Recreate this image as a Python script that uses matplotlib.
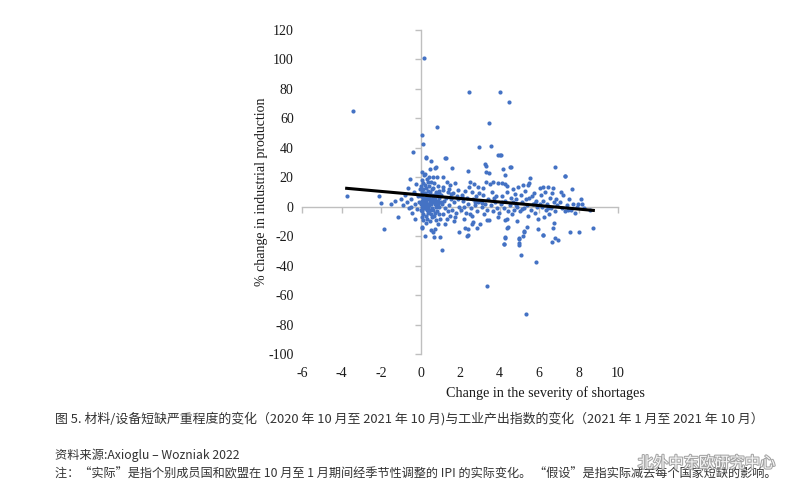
import matplotlib
matplotlib.use("Agg")
import matplotlib.pyplot as plt
import matplotlib.patheffects as pe
import numpy as np

plt.rcParams["axes.unicode_minus"] = False

# scatter points, grouped by band of shortage change (x, % change in IP)
pts_left = [(-3.74, 7.5), (-3.4, 65.2), (-2.08, 7.5), (-2.0, 2.3), (-1.85, -15.1), (-1.5, 2.0),
            (-1.3, 4.0), (-1.12, -7.2), (-1.0, 5.0), (-0.9, 1.0), (-0.8, 8.0), (-0.7, 3.0),
            (-0.65, 13.0), (-0.6, -1.0), (-0.53, 18.6), (-0.5, 5.0), (-0.42, -4.5), (-0.4, 37.0),
            (-0.35, 10.0), (-0.3, 2.0), (-0.25, 15.2), (-0.2, -1.6), (-0.15, 7.0), (-0.1, 3.0),
            (-0.05, 12.0), (-0.3, -8.0), (-0.5, 0.0)]

pts_0_1 = [(0.18, 100.8), (0.08, 48.5), (0.13, 42.6), (0.28, 33.5), (0.08, 23.8), (0.18, 21.5),
           (0.05, 18.0), (0.12, 16.0), (0.02, 14.0), (0.15, 12.0), (0.07, 10.0), (0.18, 9.0),
           (0.03, 7.0), (0.11, 6.0), (0.16, 5.0), (0.05, 4.0), (0.12, 3.0), (0.02, 2.0),
           (0.14, 1.0), (0.08, 0.0), (0.19, -1.0), (0.04, -2.0), (0.1, -3.0), (0.15, -5.0),
           (0.06, -7.0), (0.12, -9.0), (0.06, -13.6), (0.1, -14.5),
           (0.53, 31.2), (0.28, 32.9), (0.25, 22.0), (0.32, 19.0), (0.36, 17.0), (0.22, 15.0),
           (0.3, 13.0), (0.38, 11.0), (0.24, 9.0), (0.33, 8.0), (0.27, 6.0), (0.37, 5.0),
           (0.21, 4.0), (0.3, 3.0), (0.35, 2.0), (0.26, 1.0), (0.39, 0.0), (0.23, -1.0),
           (0.31, -2.0), (0.36, -4.0), (0.28, -6.0), (0.34, -8.0), (0.3, -11.0), (0.24, -20.1),
           (0.48, 25.4), (0.45, 20.4), (0.52, 17.0), (0.44, 14.0), (0.57, 12.0), (0.47, 10.0),
           (0.55, 8.0), (0.42, 7.0), (0.5, 5.0), (0.58, 4.0), (0.46, 3.0), (0.53, 2.0),
           (0.41, 1.0), (0.56, -1.0), (0.49, -2.0), (0.44, -3.0), (0.52, -5.0), (0.59, -7.0),
           (0.47, -10.0), (0.55, -16.0),
           (0.78, 27.2), (0.73, 26.5), (0.65, 20.4), (0.7, 16.0), (0.62, 13.0), (0.76, 10.0),
           (0.68, 8.0), (0.64, 6.0), (0.74, 5.0), (0.66, 3.0), (0.71, 2.0), (0.79, 0.0),
           (0.63, -2.0), (0.72, -4.0), (0.67, -6.0), (0.77, -9.0), (0.73, -15.4), (0.65, -17.0),
           (0.68, -20.8), (0.99, -20.4),
           (0.84, 54.1), (0.85, 20.4), (0.88, 14.0), (0.93, 11.0), (0.82, 8.0), (0.96, 6.0),
           (0.9, 4.0), (0.86, 2.0), (0.95, 0.0), (0.83, -3.0), (0.92, -5.0), (0.97, -8.0),
           (0.89, -12.0), (0.81, 3.0), (0.94, 9.0)]

pts_1_3 = [(1.27, 33.3), (1.24, 32.9), (1.58, 26.5), (1.14, 20.2), (1.33, 17.0), (1.75, 16.3),
           (1.49, 14.7), (1.16, 13.6), (1.12, 11.3), (1.91, 11.3), (1.4, 10.0), (1.62, 9.0),
           (1.05, 8.0), (1.83, 7.0), (1.3, 6.0), (1.55, 5.0), (1.2, 4.0), (1.7, 3.0),
           (1.08, 2.0), (1.45, 1.0), (1.95, 0.0), (1.25, -1.0), (1.6, -2.0), (1.38, -3.0),
           (1.8, -4.0), (1.15, -5.0), (1.5, -6.0), (1.35, -8.0), (1.68, -10.0), (1.22, -12.0),
           (1.97, -17.4), (1.1, -29.2), (1.88, 5.0), (1.02, 3.0), (1.73, -7.0), (1.43, 12.0),
           (1.52, 8.5),
           (2.46, 77.7), (2.98, 40.3), (2.42, 24.5), (2.51, 17.0), (2.71, 15.4), (2.93, 13.6),
           (2.47, 13.6), (2.25, 10.9), (2.59, 10.2), (2.98, 9.1), (2.1, 8.0), (2.8, 7.0),
           (2.35, 6.0), (2.65, 5.0), (2.15, 4.0), (2.9, 3.0), (2.4, 2.0), (2.75, 1.0),
           (2.2, 0.0), (2.55, -1.0), (2.05, -2.0), (2.85, -3.0), (2.3, -4.0), (2.62, -6.0),
           (2.18, -8.0), (2.68, -10.6), (2.59, -12.0), (2.85, -14.3), (2.25, -14.7),
           (2.39, -15.4), (2.42, -19.2), (2.37, -19.7), (2.12, 6.5), (2.78, 3.5), (2.5, -5.0)]

pts_3_5 = [(3.45, 57.0), (3.58, 41.4), (4.0, 35.3), (3.94, 35.0), (3.28, 29.0), (3.3, 27.8),
           (3.33, 23.4), (3.47, 23.1), (3.32, 17.0), (3.91, 15.9), (3.52, 15.2), (3.18, 12.5),
           (3.69, 17.0), (3.6, 10.0), (3.15, 8.0), (3.8, 7.0), (3.4, 5.0), (3.05, 4.0),
           (3.75, 3.0), (3.25, 2.0), (3.55, 1.0), (3.1, 0.0), (3.85, -1.0), (3.38, -2.0),
           (3.65, -3.0), (3.2, -5.0), (3.9, -7.0), (3.35, -9.0), (3.48, -9.0), (3.01, -12.0),
           (3.35, -53.6), (3.7, 6.0), (3.12, 2.5), (3.95, -4.0),
           (4.04, 78.1), (4.5, 71.3), (4.08, 35.1), (4.55, 27.0), (4.58, 26.8), (4.19, 25.6),
           (4.28, 21.5), (4.11, 15.9), (4.28, 15.4), (4.4, 14.0), (4.95, 13.6), (4.67, 11.8),
           (4.39, 9.8), (4.78, 8.6), (4.15, 7.0), (4.6, 6.0), (4.85, 5.0), (4.3, 4.0),
           (4.7, 3.0), (4.05, 2.0), (4.52, 1.0), (4.9, 0.0), (4.25, -1.0), (4.75, -2.0),
           (4.45, -3.0), (4.62, -5.0), (4.37, -8.6), (4.28, -9.0), (4.87, -9.7), (4.43, -13.6),
           (4.39, -14.3), (4.3, -20.8), (4.28, -21.0), (4.97, -22.2), (4.24, -25.3),
           (4.23, -25.5), (5.0, -26.0), (4.12, 3.0), (4.82, 1.5)]

pts_5_9 = [(5.54, 19.3), (5.51, 16.3), (5.2, 14.7), (5.46, 14.7), (6.05, 12.5), (5.3, 11.0),
           (5.75, 9.0), (5.1, 8.0), (5.65, 7.0), (5.35, 5.0), (5.85, 4.0), (5.15, 3.0),
           (5.7, 2.0), (5.4, 1.0), (5.9, 0.0), (5.25, -1.0), (5.6, -2.0), (5.05, -3.0),
           (5.8, -4.0), (5.45, -6.0), (5.95, -8.0), (5.38, -13.6), (5.97, -15.4), (5.24, -16.5),
           (5.26, -17.2), (5.17, -19.7), (5.09, -32.6), (5.85, -37.8), (5.34, -72.9),
           (5.5, 6.0), (5.78, 2.5), (5.12, -1.5), (5.0, -21.5), (5.0, -24.9),
           (6.81, 27.2), (6.22, 13.6), (6.47, 13.2), (6.69, 12.5), (6.3, 10.0), (6.64, 9.5),
           (6.1, 8.0), (6.55, 6.0), (6.85, 5.0), (6.2, 4.0), (6.75, 3.0), (6.4, 2.0),
           (6.9, 1.0), (6.15, 0.0), (6.6, -1.0), (6.35, -2.0), (6.8, -3.0), (6.5, -5.0),
           (6.25, -7.0), (6.76, -11.3), (6.72, -14.7), (6.22, -19.2), (6.19, -19.4),
           (6.81, -21.0), (6.98, -22.6), (6.66, -23.8), (6.05, 2.0), (6.45, -1.0),
           (7.32, 20.8), (7.32, 21.0), (7.11, 10.2), (7.2, 8.0), (7.5, 5.0), (7.05, 3.0),
           (7.7, 2.0), (7.4, 1.0), (7.9, 0.0), (7.15, -1.0), (7.6, -2.0), (7.3, -3.0),
           (7.8, -4.0), (7.57, -17.4), (8.04, -17.4), (8.2, 2.0), (8.3, -1.0), (8.6, -2.0),
           (8.75, -14.7), (8.1, 5.0), (7.95, 2.0), (7.65, 12.0), (7.45, -2.5)]

# fitted trend line shown in the figure
trend_intercept = 8.0
trend_slope = -1.2
trend_x = [-3.74, 8.75]

x_ticks = [-6, -4, -2, 0, 2, 4, 6, 8, 10]
y_ticks = [-100, -80, -60, -40, -20, 0, 20, 40, 60, 80, 100, 120]

caption = "图 5. 材料/设备短缺严重程度的变化（2020 年 10 月至 2021 年 10 月)与工业产出指数的变化（2021 年 1 月至 2021 年 10 月）"
source = "资料来源:Axioglu – Wozniak 2022"
note = "注：“实际”是指个别成员国和欧盟在 10 月至 1 月期间经季节性调整的 IPI 的实际变化。 “假设”是指实际减去每个国家短缺的影响。"
watermark = "北外中东欧研究中心"

serif = ["Liberation Serif", "DejaVu Serif"]
cjk = ["Noto Sans CJK SC", "DejaVu Sans"]

all_pts = np.array(pts_left + pts_0_1 + pts_1_3 + pts_3_5 + pts_5_9)

fig = plt.figure(figsize=(7.99, 4.98), dpi=100)
ax = fig.add_axes([0.378, 0.289, 0.3955, 0.651])

ax.scatter(all_pts[:, 0], all_pts[:, 1], s=9, color="#4472C4", linewidths=0, zorder=3)
tx = np.array(trend_x)
ax.plot(tx, trend_intercept + trend_slope * tx, color="black", lw=2.2, zorder=4)

ax.set_xlim(-6, 10)
ax.set_ylim(-100, 120)

# axis lines cross at the origin, labels stay on the outer edges
for side in ["top", "right"]:
    ax.spines[side].set_visible(False)
ax.spines["left"].set_position(("data", 0))
ax.spines["bottom"].set_position(("data", 0))
for side in ["left", "bottom"]:
    ax.spines[side].set_color("#bfbfbf")
    ax.spines[side].set_linewidth(1.0)
ax.set_xticks(x_ticks)
ax.set_yticks(y_ticks)
ax.tick_params(axis="both", direction="out", length=4, width=1, color="#bfbfbf",
               labelbottom=False, labelleft=False)

sx = ax.secondary_xaxis(0)
sx.set_xticks(x_ticks)
sx.spines["bottom"].set_visible(False)
sx.tick_params(length=0, pad=9)
sy = ax.secondary_yaxis(0)
sy.set_yticks(y_ticks)
sy.spines["left"].set_visible(False)
sy.tick_params(length=0, pad=6)
for lab in sx.get_xticklabels() + sy.get_yticklabels():
    lab.set_fontfamily(serif)
    lab.set_fontsize(10)
    lab.set_color("#1a1a1a")

sy.set_ylabel("% change in industrial production", family=serif, fontsize=10,
              color="#1a1a1a", labelpad=0)
fig.text(0.683, 0.211, "Change in the severity of shortages", family=serif, fontsize=10.2,
         color="#1a1a1a", ha="center", va="center")

fig.text(0.069, 0.16, caption, family=cjk, fontsize=9.3, color="#333333", va="center")
fig.text(0.069, 0.086, source, family=cjk, fontsize=8.8, color="#333333", va="center")
fig.text(0.069, 0.048, note, family=cjk, fontsize=8.75, color="#333333", va="center")
fig.text(0.97, 0.07, watermark, family=cjk, fontsize=11, color="white", ha="right",
         va="center", alpha=0.9,
         path_effects=[pe.withStroke(linewidth=1.5, foreground="#9a9a9a")])

fig.savefig("out.png", dpi=100, facecolor="white")
